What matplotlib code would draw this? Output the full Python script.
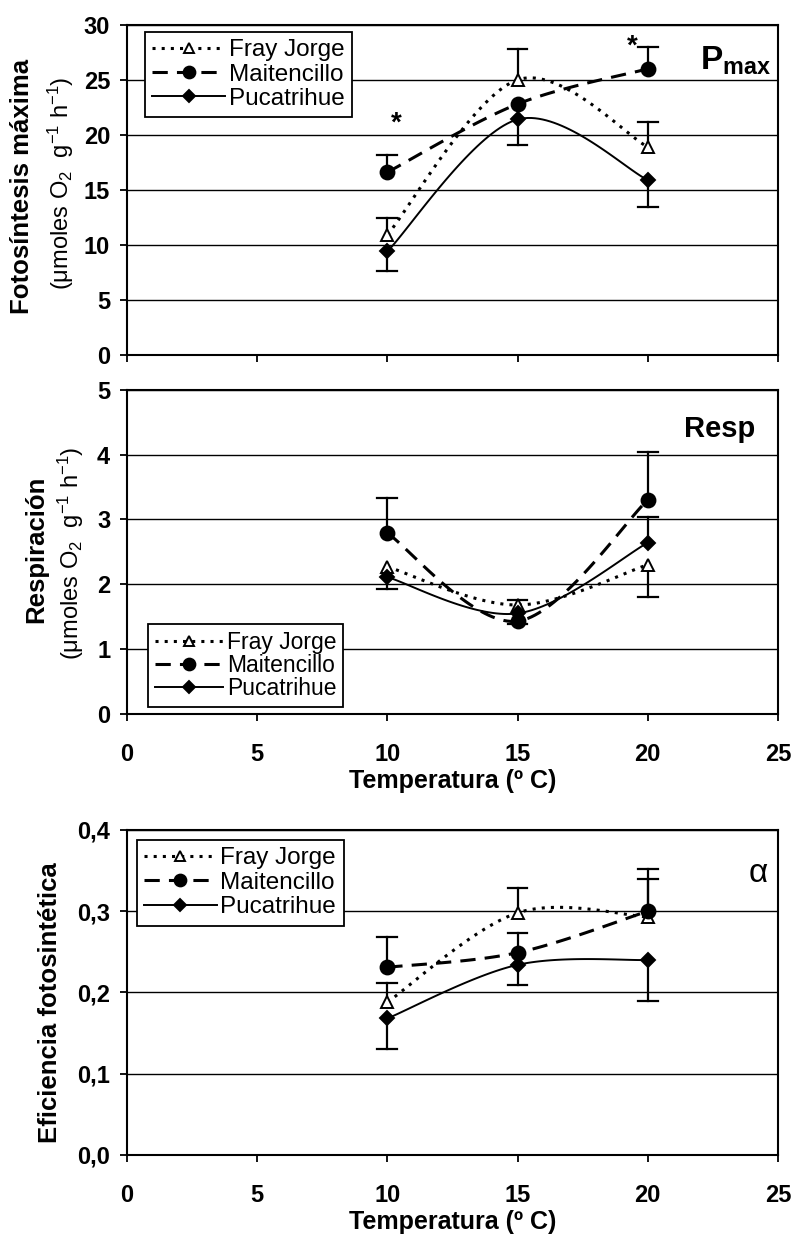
import numpy as np
import matplotlib
matplotlib.use("Agg")
import matplotlib.pyplot as plt

plt.rcParams['font.family'] = ['Liberation Sans', 'DejaVu Sans']
plt.rcParams['mathtext.fontset'] = 'custom'
plt.rcParams['mathtext.rm'] = 'Liberation Sans'
plt.rcParams['mathtext.bf'] = 'Liberation Sans:bold'
plt.rcParams['mathtext.default'] = 'regular'

temp = [10, 15, 20]
sites = ["Fray Jorge", "Maitencillo", "Pucatrihue"]

# Pmax
pmax_fj = [10.9, 25.0, 18.9]
pmax_ma = [16.6, 22.8, 26.0]
pmax_pu = [9.4, 21.4, 15.9]
pmax_fj_hi = [12.4, 27.8, 21.2]
pmax_ma_hi = [18.2, None, 28.0]
pmax_pu_lo = [7.6, 19.1, 13.4]

# Respiracion
resp_fj = [2.27, 1.68, 2.30]
resp_ma = [2.79, 1.43, 3.30]
resp_pu = [2.11, 1.55, 2.64]
resp_fj_hi = [None, 1.76, None]
resp_fj_lo = [None, None, 1.80]
resp_ma_hi = [3.33, None, 4.04]
resp_ma_lo = [None, 1.38, None]
resp_pu_hi = [None, None, 3.04]
resp_pu_lo = [1.93, None, None]

# alpha
alfa_fj = [0.188, 0.298, 0.293]
alfa_ma = [0.231, 0.249, 0.300]
alfa_pu = [0.168, 0.234, 0.240]
alfa_fj_hi = [0.212, 0.329, 0.340]
alfa_ma_hi = [0.268, 0.273, 0.352]
alfa_pu_lo = [0.131, 0.209, 0.190]

styles = [
    dict(ls=(0, (1, 2)), lw=2.2, marker='^', mfc='white', ms=9),
    dict(ls=(0, (5, 3)), lw=2.2, marker='o', mfc='black', ms=10),
    dict(ls='-', lw=1.4, marker='D', mfc='black', ms=7),
]

unit = '(μmoles O$_2$  g$^{-1}$ h$^{-1}$)'


def smooth(x, y, n=40):
    # Excel-like smoothed line (cubic Bezier through points)
    p = np.column_stack([x, y]).astype(float)
    pts = np.vstack([p[0], p, p[-1]])
    out = []
    for i in range(1, len(pts) - 2):
        p0, p1, p2, p3 = pts[i - 1], pts[i], pts[i + 1], pts[i + 2]
        c1 = p1 + (p2 - p0) / 6
        c2 = p2 - (p3 - p1) / 6
        t = np.linspace(0, 1, n)[:, None]
        seg = ((1 - t) ** 3 * p1 + 3 * (1 - t) ** 2 * t * c1
               + 3 * (1 - t) * t ** 2 * c2 + t ** 3 * p2)
        out.append(seg)
    c = np.vstack(out)
    return c[:, 0], c[:, 1]


def bars(ax, x, y, ends):
    for xi, yi, e in zip(x, y, ends):
        if e is None:
            continue
        ax.plot([xi, xi], [yi, e], color='black', lw=1.6, zorder=3)
        ax.plot([xi - 0.38, xi + 0.38], [e, e], color='black', lw=1.6, zorder=3)


def series(ax, ys):
    handles = []
    for y, st, lab in zip(ys, styles, sites):
        sx, sy = smooth(temp, y)
        ax.plot(sx, sy, color='black', ls=st['ls'], lw=st['lw'], zorder=4)
        ax.plot(temp, y, ls='none', marker=st['marker'], mfc=st['mfc'],
                mec='black', mew=1.4, ms=st['ms'], zorder=5)
        h, = ax.plot([], [], color='black', ls=st['ls'], lw=st['lw'],
                     marker=st['marker'], mfc=st['mfc'], mec='black',
                     mew=1.4, ms=st['ms'] * 0.85, label=lab)
        handles.append(h)
    return handles


def frame(ax, ymax, step, fmt):
    ax.set_xlim(0, 25)
    ax.set_ylim(0, ymax)
    ax.set_xticks(range(0, 26, 5))
    yt = np.arange(0, ymax + step / 2, step)
    ax.set_yticks(yt)
    ax.set_yticklabels([fmt(v) for v in yt], fontweight='bold', fontsize=17)
    ax.grid(axis='y', color='black', lw=1.0)
    ax.set_axisbelow(True)
    for s in ax.spines.values():
        s.set_linewidth(1.5)
    ax.tick_params(direction='out', length=5, width=1.3, pad=7)
    ax.tick_params(axis='x', pad=16)


def legend(ax, handles, anchor, loc, fs, sp):
    lg = ax.legend(handles=handles, loc=loc, bbox_to_anchor=anchor,
                   borderaxespad=0, fontsize=fs, handlelength=3.0,
                   handletextpad=0.15, labelspacing=sp, borderpad=0.3,
                   fancybox=False, edgecolor='black', framealpha=1)
    lg.get_frame().set_linewidth(1.3)


fig = plt.figure(figsize=(7.93, 12.41), dpi=100)
ax1 = fig.add_axes([0.160, 0.714, 0.821, 0.266])
ax2 = fig.add_axes([0.160, 0.4247, 0.821, 0.2613])
ax3 = fig.add_axes([0.160, 0.0693, 0.821, 0.2619])

# Pmax
frame(ax1, 30, 5, lambda v: f"{v:.0f}")
ax1.set_xticklabels([])
h = series(ax1, [pmax_fj, pmax_ma, pmax_pu])
bars(ax1, temp, pmax_fj, pmax_fj_hi)
bars(ax1, temp, pmax_ma, pmax_ma_hi)
bars(ax1, temp, pmax_pu, pmax_pu_lo)
legend(ax1, h, (0.028, 0.979), 'upper left', 17.5, 0.1)
ax1.text(10.35, 21.0, '*', fontsize=20, fontweight='bold', ha='center', va='center')
ax1.text(19.4, 28.0, '*', fontsize=20, fontweight='bold', ha='center', va='center')
ax1.text(0.99, 0.89, r'$\mathbf{P}_{\mathbf{max}}$', transform=ax1.transAxes,
         fontsize=24, ha='right', va='center')
fig.text(0.028, 0.850, 'Fotosíntesis máxima', rotation=90, fontsize=18.5,
         fontweight='bold', ha='center', va='center')
fig.text(0.077, 0.852, unit, rotation=90, fontsize=17, ha='center', va='center')

# Respiracion
frame(ax2, 5, 1, lambda v: f"{v:.0f}")
ax2.set_xticklabels([f"{v}" for v in range(0, 26, 5)], fontweight='bold', fontsize=17)
ax2.set_xlabel('Temperatura (º C)', fontweight='bold', fontsize=18, labelpad=2)
h = series(ax2, [resp_fj, resp_ma, resp_pu])
bars(ax2, temp, resp_fj, resp_fj_hi)
bars(ax2, temp, resp_fj, resp_fj_lo)
bars(ax2, temp, resp_ma, resp_ma_hi)
bars(ax2, temp, resp_ma, resp_ma_lo)
bars(ax2, temp, resp_pu, resp_pu_hi)
bars(ax2, temp, resp_pu, resp_pu_lo)
legend(ax2, h, (0.032, 0.022), 'lower left', 16.5, 0.0)
ax2.text(0.965, 0.88, 'Resp', transform=ax2.transAxes, fontsize=21,
         fontweight='bold', ha='right', va='center')
fig.text(0.046, 0.557, 'Respiración', rotation=90, fontsize=18.5,
         fontweight='bold', ha='center', va='center')
fig.text(0.089, 0.554, unit, rotation=90, fontsize=17, ha='center', va='center')

# Eficiencia
frame(ax3, 0.4, 0.1, lambda v: f"{v:.1f}".replace('.', ','))
ax3.set_xticklabels([f"{v}" for v in range(0, 26, 5)], fontweight='bold', fontsize=17)
ax3.set_xlabel('Temperatura (º C)', fontweight='bold', fontsize=18, labelpad=2)
h = series(ax3, [alfa_fj, alfa_ma, alfa_pu])
bars(ax3, temp, alfa_fj, alfa_fj_hi)
bars(ax3, temp, alfa_ma, alfa_ma_hi)
bars(ax3, temp, alfa_pu, alfa_pu_lo)
legend(ax3, h, (0.015, 0.969), 'upper left', 17.5, 0.1)
ax3.text(0.985, 0.865, 'α', transform=ax3.transAxes, fontsize=24,
         ha='right', va='center')
fig.text(0.063, 0.192, 'Eficiencia fotosintética', rotation=90, fontsize=18.5,
         fontweight='bold', ha='center', va='center')

fig.savefig('out.png', dpi=100)
